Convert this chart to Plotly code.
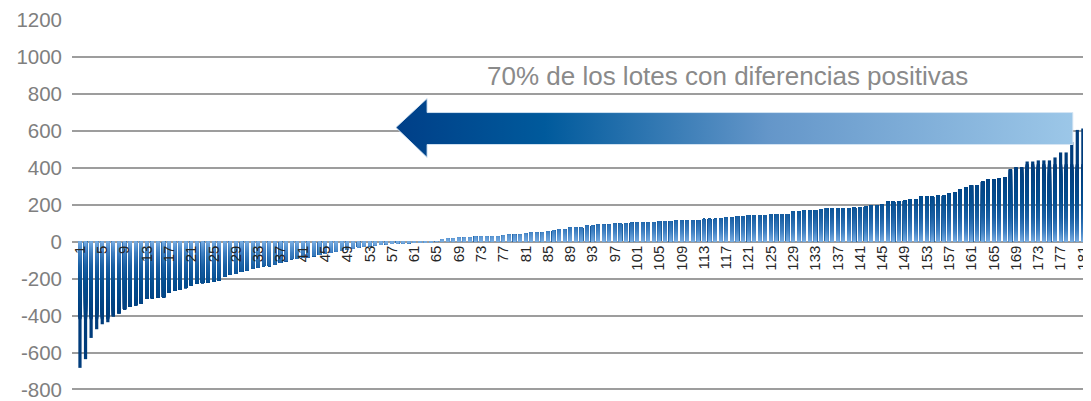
import numpy as np
import plotly.graph_objects as go

# ---------------- data ----------------
diferencias = [
    -683, -636, -521, -474, -447, -436, -404, -388, -366, -353,
    -344, -334, -310, -306, -301, -301, -274, -267, -258, -251,
    -236, -225, -224, -220, -216, -209, -189, -178, -175, -164,
    -155, -148, -141, -132, -132, -126, -114, -105, -94, -92,
    -88, -84, -78, -71, -65, -60, -53, -49, -45, -38,
    -31, -27, -24, -20, -18, -14, -12, -10, -9, -8,
    -6, -5, -4, -3, 2, 12, 18, 18, 23, 23,
    23, 29, 29, 29, 29, 29, 34, 39, 39, 39,
    45, 50, 50, 50, 56, 61, 66, 66, 77, 77,
    77, 88, 88, 93, 93, 93, 99, 99, 99, 104,
    106, 106, 106, 106, 112, 112, 112, 117, 117, 117,
    117, 117, 123, 123, 123, 128, 133, 133, 139, 139,
    144, 144, 144, 144, 150, 150, 150, 150, 166, 166,
    171, 171, 171, 177, 182, 182, 182, 182, 182, 184,
    186, 191, 196, 196, 202, 218, 218, 218, 223, 229,
    229, 245, 245, 245, 250, 250, 261, 267, 283, 294,
    305, 305, 326, 337, 337, 342, 348, 391, 402, 402,
    434, 434, 440, 440, 440, 456, 483, 483, 540, 605,
    612,
]
lotes = list(range(1, len(diferencias) + 1))
tick_lotes = list(range(1, len(diferencias) + 1, 4))
tick_labels = [str(v) for v in tick_lotes]
y_ticks = list(range(-800, 1201, 200))
y_tick_labels = [str(v) for v in y_ticks]
texto = "70% de los lotes con diferencias positivas"

# ---------------- styling helpers ----------------
vals = np.array(diferencias, dtype=float)

grad_stops = [
    (0, (0x78, 0xAC, 0xE1)),
    (60, (0x3E, 0x7F, 0xC1)),
    (130, (0x1B, 0x61, 0xA5)),
    (220, (0x05, 0x4E, 0x90)),
    (420, (0x00, 0x3C, 0x7B)),
]


def grad_color(a):
    a = min(max(a, 0), grad_stops[-1][0])
    for (a0, c0), (a1, c1) in zip(grad_stops[:-1], grad_stops[1:]):
        if a0 <= a <= a1:
            f = (a - a0) / (a1 - a0)
            c = [round(c0[i] + f * (c1[i] - c0[i])) for i in range(3)]
            return "rgb(%d,%d,%d)" % tuple(c)
    return "rgb(%d,%d,%d)" % grad_stops[-1][1]


fig = go.Figure()

# vertical gradient on each bar: full bar dark, then lighter clipped layers on top
step = 6
levels = list(range(420, 0, -step))
fig.add_trace(go.Bar(x=lotes, y=vals, marker=dict(color=grad_color(430), line=dict(width=0)),
                     hoverinfo="skip", showlegend=False))
for t in levels:
    fig.add_trace(go.Bar(x=lotes, y=np.clip(vals, -t, t),
                         marker=dict(color=grad_color(t - step / 2), line=dict(width=0)),
                         hoverinfo="skip", showlegend=False))

# gradient arrow (decoration)
ax = [57.7, 63.3, 63.3, 179.2, 179.2, 63.3, 63.3, 57.7]
ay = [618, 775, 699, 699, 526, 526, 456, 618]
fig.add_trace(go.Scatter(
    x=ax, y=ay, mode="lines", fill="toself",
    line=dict(width=1, color="rgba(214,230,244,0.9)"),
    fillgradient=dict(type="horizontal",
                      colorscale=[[0, "#003f88"], [0.22, "#005a9c"], [0.55, "#6496c9"], [1, "#9cc7e8"]]),
    hoverinfo="skip", showlegend=False))

fig.add_annotation(x=117.2, y=899, xref="x", yref="y", text=texto, showarrow=False,
                   font=dict(family="Liberation Sans", size=26, color="#8a8a8a"))

y_min, y_max = -830, 1200

# page body has an 8px default margin; compensate so the plot lands where the reference has it
fig.update_layout(
    width=1083, height=393,
    margin=dict(l=64, r=0, t=12, b=5),
    paper_bgcolor="white", plot_bgcolor="white",
    barmode="overlay", bargap=0.42,
    font=dict(family="Liberation Sans"),
)
fig.update_xaxes(
    range=[-0.43, 182.1], tickmode="array", tickvals=tick_lotes, ticktext=tick_labels,
    tickangle=-90, tickfont=dict(size=15, color="#262626"),
    showgrid=False, zeroline=False, showline=False, ticks="",
    anchor="free", position=-y_min / (y_max - y_min), ticklabeloverflow="allow",
)
fig.update_yaxes(
    range=[y_min, y_max], tickmode="array", tickvals=y_ticks, ticktext=y_tick_labels,
    tickfont=dict(size=20.5, color="#7f7f7f"),
    showgrid=True, gridcolor="#9d9d9d", gridwidth=1.8,
    zeroline=True, zerolinecolor="#9d9d9d", zerolinewidth=1.8,
    ticks="", ticklabelstandoff=9, ticklabeloverflow="allow",
)

fig.write_html("out.html")
